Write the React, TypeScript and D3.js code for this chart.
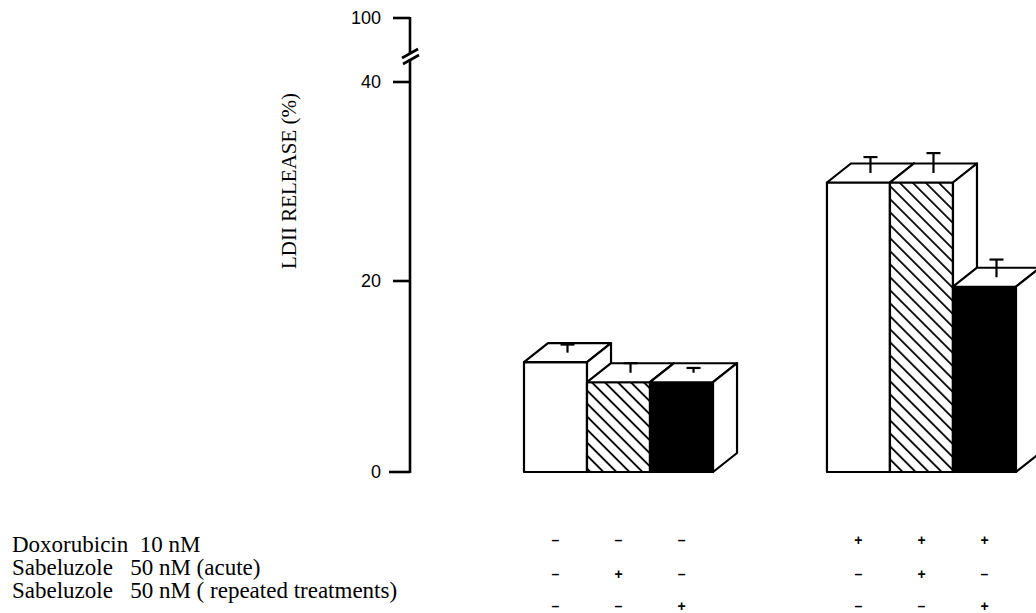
import React from "react";
import * as d3 from "d3";

const groups = ["control", "doxorubicin"];
const series = ["none", "acute", "repeated"];
const values = [
  [11.5, 9.4, 9.4],
  [29.9, 29.9, 19.4],
];
const errors = [
  [0.85, 1.0, 0.5],
  [1.6, 2.0, 1.8],
];
const yTicks = [0, 20, 40, 100];
const rowLabels = [
  "Doxorubicin  10 nM",
  "Sabeluzole   50 nM (acute)",
  "Sabeluzole   50 nM ( repeated treatments)",
];
const rowSigns = [
  ["-", "-", "-", "+", "+", "+"],
  ["-", "+", "-", "-", "+", "-"],
  ["-", "-", "+", "-", "-", "+"],
];
const yLabel = "LDII RELEASE (%)";

const W = 1036;
const H = 613;
const DX = 24;
const DY = 19;

export default function App() {
  const y = d3.scaleLinear().domain([0, 20, 40, 100]).range([472, 281, 82, 18]);
  const gx = d3.scaleBand().domain(groups).range([524, 1016]).paddingInner(0.376).paddingOuter(0);
  const sx = d3.scaleBand().domain(series).range([0, gx.bandwidth()]).padding(0);
  const bw = sx.bandwidth();
  const y0 = y(0);
  const axisX = 410;
  const fills = ["#fff", "url(#hatch)", "#000"];
  const serif = "'Liberation Serif', 'Times New Roman', serif";
  const sans = "'Liberation Sans', Arial, sans-serif";

  const bars: React.ReactNode[] = [];
  groups.forEach((g, gi) => {
    series.forEach((s, si) => {
      const v = values[gi][si];
      const e = errors[gi][si];
      const x = (gx(g) as number) + (sx(s) as number);
      const yt = y(v);
      const top = `M${x},${yt}L${x + DX},${yt - DY}L${x + bw + DX},${yt - DY}L${x + bw},${yt}Z`;
      const side = `M${x + bw},${yt}L${x + bw + DX},${yt - DY}L${x + bw + DX},${y0 - DY}L${x + bw},${y0}Z`;
      const ex = x + bw / 2 + DX / 2;
      const ey1 = yt - DY / 2;
      const ey2 = y(v + e) - DY / 2;
      bars.push(
        <g key={`${gi}-${si}`} stroke="#000" strokeWidth={2.2} strokeLinejoin="round">
          <rect x={x} y={yt} width={bw} height={y0 - yt} fill={fills[si]} />
          <path d={top} fill="#fff" />
          <path d={side} fill="#fff" />
          <line x1={ex} x2={ex} y1={ey1} y2={ey2} />
          <line x1={ex - 7} x2={ex + 7} y1={ey2} y2={ey2} />
        </g>
      );
    });
  });

  const colX: number[] = [];
  groups.forEach((g) =>
    series.forEach((s) => colX.push((gx(g) as number) + (sx(s) as number) + bw / 2))
  );
  const signY = [540, 574, 606];
  const labelY = [552, 575, 598];

  return (
    <svg
      width={W}
      height={H}
      style={{ position: "absolute", left: 0, top: 0, background: "#fff" }}
    >
      <defs>
        <pattern
          id="hatch"
          patternUnits="userSpaceOnUse"
          width={9.2}
          height={10}
          patternTransform="rotate(-45)"
        >
          <rect width={9.2} height={10} fill="#fff" />
          <line x1={1} x2={1} y1={0} y2={10} stroke="#000" strokeWidth={1.8} />
        </pattern>
      </defs>
      <rect width={W} height={H} fill="#fff" />

      {/* y axis with break */}
      <g stroke="#000" strokeWidth={2.6}>
        <line x1={axisX} x2={axisX} y1={y(100) - 1} y2={53} />
        <line x1={axisX} x2={axisX} y1={59} y2={y0 + 1} />
        <line x1={402} x2={418} y1={58} y2={49} />
        <line x1={403} x2={419} y1={64} y2={55} />
        {yTicks.map((t) => (
          <line key={t} x1={t === 0 ? 389 : 393} x2={axisX} y1={y(t)} y2={y(t)} />
        ))}
      </g>
      {yTicks.map((t) => (
        <text
          key={t}
          x={381}
          y={y(t)}
          dy="0.36em"
          textAnchor="end"
          fontFamily={sans}
          fontSize={18}
        >
          {t}
        </text>
      ))}
      <text
        transform={`translate(296,181) rotate(-90)`}
        textAnchor="middle"
        fontFamily={serif}
        fontSize={21}
      >
        {yLabel}
      </text>

      {bars}

      {rowLabels.map((l, i) => (
        <text key={l} x={12} y={labelY[i]} fontFamily={serif} fontSize={23}>
          {l.replace(/ /g, "\u00a0")}
        </text>
      ))}
      {rowSigns.map((row, ri) =>
        row.map((s, ci) => (
          <text
            key={`${ri}-${ci}`}
            x={colX[ci]}
            y={signY[ri] + 4.5}
            textAnchor="middle"
            fontFamily={sans}
            fontWeight="bold"
            fontSize={14}
          >
            {s === "-" ? "–" : "+"}
          </text>
        ))
      )}
    </svg>
  );
}
